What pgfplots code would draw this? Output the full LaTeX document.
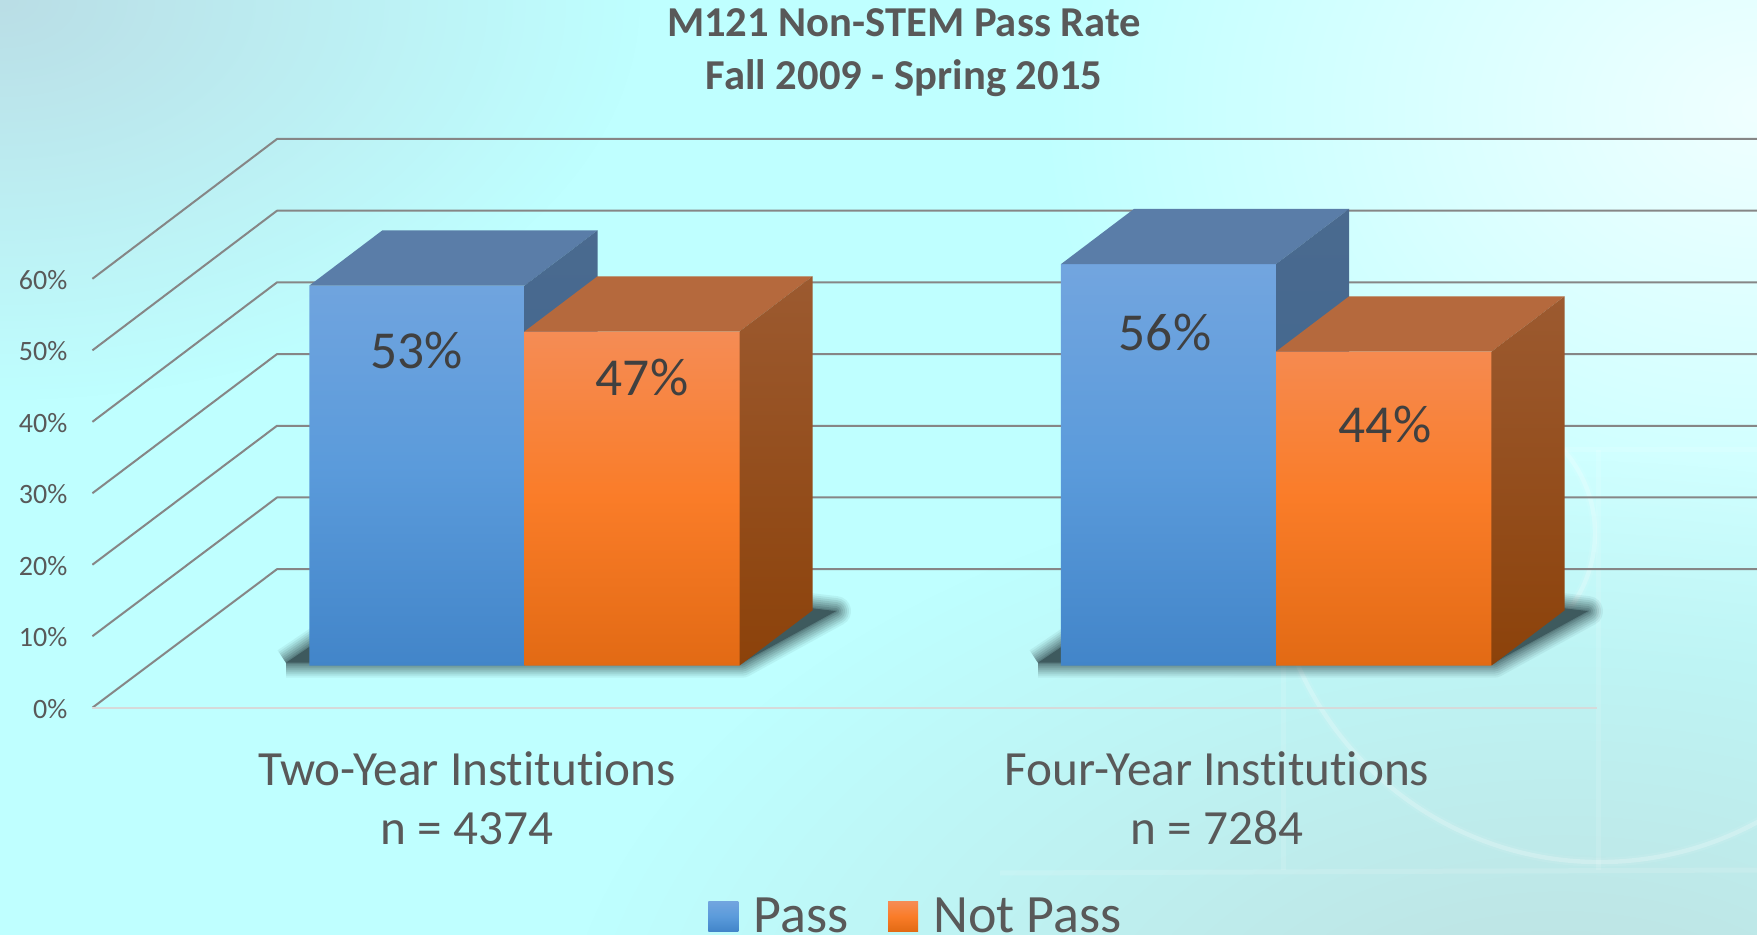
\documentclass[border=0pt]{standalone}
\usepackage{fontspec}
\setmainfont{Carlito}[Ligatures=NoCommon]
\usepackage{pgfplots}
\pgfplotsset{compat=1.18}
\usetikzlibrary{fadings}
\definecolor{bgbase}{HTML}{BFFFFF}
\definecolor{txt}{HTML}{595959}
\definecolor{txtdark}{HTML}{404040}
\definecolor{gridc}{HTML}{868686}
\definecolor{bluetop}{HTML}{72A5DF}
\definecolor{bluemid}{HTML}{5B9BDB}
\definecolor{bluebot}{HTML}{4285C9}
\definecolor{blueroof}{HTML}{5A7DA8}
\definecolor{bluesideA}{HTML}{4A6A8F}
\definecolor{bluesideB}{HTML}{3C6590}
\definecolor{orgtop}{HTML}{F58C55}
\definecolor{orgmid}{HTML}{FA7C28}
\definecolor{orgbot}{HTML}{E26A14}
\definecolor{orgroof}{HTML}{B5693D}
\definecolor{orgsideA}{HTML}{9C5A30}
\definecolor{orgsideB}{HTML}{8C420A}
\definecolor{shad}{HTML}{3E5A5E}
\tikzfading[name=radf, inner color=transparent!0, outer color=transparent!100]
\pgfplotsset{
  gridln/.style={forget plot, draw=gridc, line width=1pt, line join=round},
  roofblue/.style={forget plot, fill=blueroof, draw=none},
  sideblue/.style={forget plot, draw=none, top color=bluesideA, bottom color=bluesideB},
  rooforg/.style={forget plot, fill=orgroof, draw=none},
  sideorg/.style={forget plot, draw=none, top color=orgsideA, bottom color=orgsideB},
  sqleg/.style={legend image code/.code={\path[##1] (0pt,-7.5pt) rectangle (15pt,7.5pt);}},
}
\newcommand{\shadowplot}[1]{%
  \addplot[forget plot, draw=shad, draw opacity=.08, line width=15pt, line join=round] coordinates {#1};
  \addplot[forget plot, draw=shad, draw opacity=.10, line width=13pt, line join=round] coordinates {#1};
  \addplot[forget plot, draw=shad, draw opacity=.12, line width=11pt, line join=round] coordinates {#1};
  \addplot[forget plot, draw=shad, draw opacity=.14, line width=9pt, line join=round] coordinates {#1};
  \addplot[forget plot, draw=shad, draw opacity=.16, line width=7pt, line join=round] coordinates {#1};
  \addplot[forget plot, draw=shad, draw opacity=.2, line width=5pt, line join=round] coordinates {#1};
  \addplot[forget plot, draw=shad, draw opacity=.25, line width=3pt, line join=round] coordinates {#1};
  \addplot[forget plot, draw=shad, draw opacity=.3, line width=1.2pt, line join=round, fill=shad] coordinates {#1};
}
\begin{document}
\begin{tikzpicture}
\useasboundingbox (0,0) rectangle (878.5pt,-467.5pt);
\begin{scope}
\clip (0,0) rectangle (878.5pt,-467.5pt);
\begin{scope}[x=.5pt,y=-.5pt]
\fill[bgbase] (0,0) rectangle (1757,935);
\fill[color={rgb,255:red,186;green,222;blue,230}, path fading=radf] (0,0) ellipse (640 and 400);
\fill[color={rgb,255:red,240;green,255;blue,255}, path fading=radf] (1757,110) ellipse (720 and 560);
\fill[color={rgb,255:red,190;green,222;blue,222}, path fading=radf] (1560,1080) ellipse (1000 and 620);
\draw[white, opacity=.07, line width=4.5pt] (1275,589.3) arc[start angle=170,end angle=20,radius=330];
\draw[white, opacity=.22, line width=2.2pt] (1275,589.3) arc[start angle=170,end angle=20,radius=330];
\draw[white, opacity=.07, line width=4.5pt] (1541.7,430.6) arc[start angle=-55,end angle=55,radius=125];
\draw[white, opacity=.22, line width=2.2pt] (1541.7,430.6) arc[start angle=-55,end angle=55,radius=125];
\draw[white, opacity=.13, line width=2.5pt] (1000,873) -- (1757,870);
\draw[white, opacity=.12, line width=2.5pt] (1490,450) -- (1757,450);
\draw[white, opacity=.12, line width=2.5pt] (1283,600) -- (1283,870);
\draw[white, opacity=.12, line width=2.5pt] (1598,450) -- (1598,870);
\end{scope}
\end{scope}
\begin{axis}[
  at={(46.2pt,-353.85pt)}, anchor=south west,
  scale only axis, width=832.3pt, height=307.84pt,
  xmin=92.4, xmax=1757, ymin=-5.87, ymax=80,
  clip=false,
  axis line style={draw=none},
  major tick length=0pt,
  xtick pos=bottom, ytick pos=left,
  ytick={-5.87,4.10,14.07,24.04,34.0,43.97,53.95},
  yticklabels={0\%,10\%,20\%,30\%,40\%,50\%,60\%},
  yticklabel style={font=\fontsize{14}{16}\selectfont, text=txt, anchor=east},
  xtick={467,1217},
  xticklabels={{Two-Year Institutions\\n = 4374},{Four-Year Institutions\\n = 7284}},
  xticklabel style={font=\fontsize{24.6}{29.5}\selectfont, text=txt, align=center},
  x tick label style={yshift=-18.3pt},
  y tick label style={xshift=-9pt, yshift=-0.6pt},
  title={M121 Non-STEM Pass Rate\\Fall 2009 - Spring 2015},
  title style={at={(axis cs:904,80)}, anchor=south, yshift=-12pt, align=center, text=txt,
     font=\fontsize{21.3}{26.5}\selectfont\bfseries},
  legend style={at={(axis cs:708,-38.2)}, anchor=south west, draw=none, fill=none,
     legend columns=2, font=\fontsize{27}{28}\selectfont, text=txt, inner sep=0pt,
     /tikz/every odd column/.append style={column sep=5.5pt},
     /tikz/every even column/.append style={column sep=18pt}},
  legend cell align=left,
]
% back wall and side wall rules: front end, back corner, right end
\addplot[gridln] coordinates {(92.4,53.95)(277,73.45)(1757,73.45)};
\addplot[gridln] coordinates {(92.4,43.97)(277,63.45)(1757,63.45)};
\addplot[gridln] coordinates {(92.4,34.0)(277,53.45)(1757,53.45)};
\addplot[gridln] coordinates {(92.4,24.04)(277,43.45)(1757,43.45)};
\addplot[gridln] coordinates {(92.4,14.07)(277,33.45)(1757,33.45)};
\addplot[gridln] coordinates {(92.4,4.10)(277,23.45)(1757,23.45)};
\addplot[gridln] coordinates {(92.4,-5.87)(277,13.45)(1757,13.45)};
\addplot[forget plot, draw={rgb,255:red,214;green,218;blue,218}, line width=1pt] coordinates {(92.4,-5.87)(1597,-5.87)};
% floor shadows
\shadowplot{(286,0.4)(742,0.4)(836,7.6)(812,8.0)(500,8.0)(320,3.6)(286,0.4)}
\shadowplot{(1038,0.4)(1494,0.4)(1588,7.6)(1564,8.0)(1252,8.0)(1072,3.6)(1038,0.4)}
% Pass
\addplot[ybar, bar shift=0pt, bar width=215.2, draw=none, top color=bluetop, bottom color=bluebot, middle color=bluemid, sqleg]
  coordinates {(416.9,53)(1168.5,56)};
\addlegendentry{Pass}
\addplot[roofblue] coordinates {(309.3,53)(524.5,53)(597.5,60.7)(382.3,60.7)(309.3,53)};
\addplot[sideblue] coordinates {(524.5,0)(597.5,7.7)(597.5,60.7)(524.5,53)(524.5,0)};
\addplot[roofblue] coordinates {(1061,56)(1276,56)(1349,63.7)(1134,63.7)(1061,56)};
\addplot[sideblue] coordinates {(1276,0)(1349,7.7)(1349,63.7)(1276,56)(1276,0)};
% Not Pass
\addplot[rooforg] coordinates {(524.5,46.6)(739.5,46.6)(812.5,54.3)(597.5,54.3)(524.5,46.6)};
\addplot[sideorg] coordinates {(739.5,0)(812.5,7.7)(812.5,54.3)(739.5,46.6)(739.5,0)};
\addplot[rooforg] coordinates {(1276,43.8)(1491.5,43.8)(1564.5,51.5)(1349,51.5)(1276,43.8)};
\addplot[sideorg] coordinates {(1491.5,0)(1564.5,7.7)(1564.5,51.5)(1491.5,43.8)(1491.5,0)};
\addplot[ybar, bar shift=0pt, bar width=215.2, draw=none, top color=orgtop, bottom color=orgbot, middle color=orgmid, sqleg]
  coordinates {(632,46.6)(1383.8,43.8)};
\addlegendentry{Not Pass}
\node[text=txtdark, font=\fontsize{26.7}{28}\selectfont] at (axis cs:416.8,43.9) {53\%};
\node[text=txtdark, font=\fontsize{26.7}{28}\selectfont] at (axis cs:642,40.2) {47\%};
\node[text=txtdark, font=\fontsize{26.7}{28}\selectfont] at (axis cs:1165,46.4) {56\%};
\node[text=txtdark, font=\fontsize{26.7}{28}\selectfont] at (axis cs:1385,33.6) {44\%};
\end{axis}
\end{tikzpicture}
\end{document}
